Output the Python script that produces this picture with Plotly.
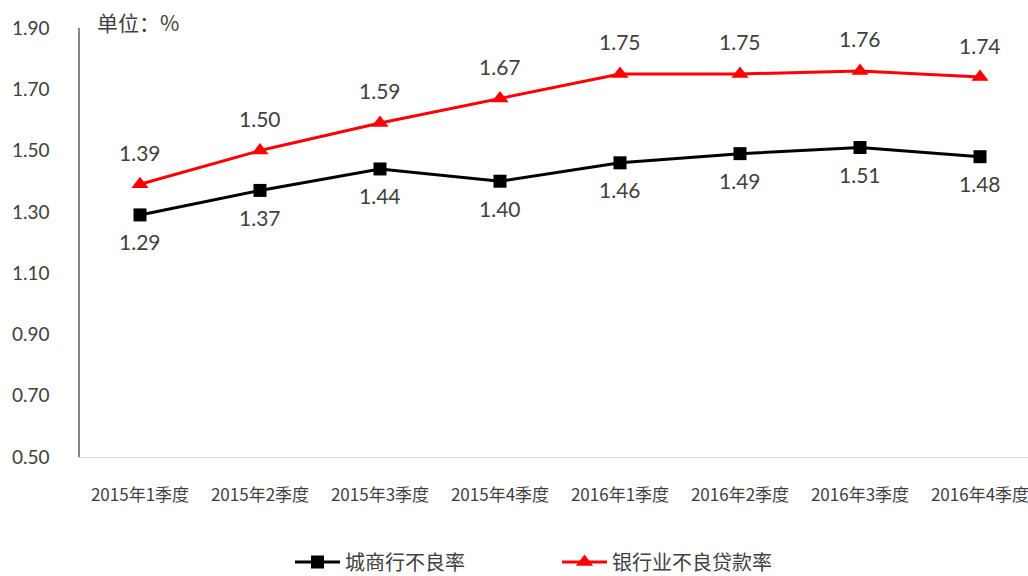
import plotly.graph_objects as go

categories = ["2015年1季度", "2015年2季度", "2015年3季度", "2015年4季度",
              "2016年1季度", "2016年2季度", "2016年3季度", "2016年4季度"]
city_bank = [1.29, 1.37, 1.44, 1.40, 1.46, 1.49, 1.51, 1.48]
banking = [1.39, 1.50, 1.59, 1.67, 1.75, 1.75, 1.76, 1.74]
y_ticks = [0.50, 0.70, 0.90, 1.10, 1.30, 1.50, 1.70, 1.90]

cjk = "Noto Sans CJK SC"
num_font = "Lato, Carlito, Liberation Sans, sans-serif"
grey = "#404040"

fig = go.Figure()
fig.add_trace(go.Scatter(
    x=categories, y=city_bank, name="城商行不良率",
    mode="lines+markers",
    line=dict(color="#000000", width=3),
    marker=dict(symbol="square", size=13, color="#000000"),
    cliponaxis=False,
))
fig.add_trace(go.Scatter(
    x=categories, y=banking, name="银行业不良贷款率",
    mode="lines+markers",
    line=dict(color="#ff0000", width=3),
    marker=dict(symbol="triangle-up", size=15, color="#ff0000"),
    cliponaxis=False,
))

annotations = []
for c, v in zip(categories, city_bank):
    annotations.append(dict(x=c, y=v, xref="x", yref="y", text=f"{v:.2f}",
                            showarrow=False, yshift=-27, yanchor="middle",
                            font=dict(family=num_font, size=21, color=grey)))
for c, v in zip(categories, banking):
    annotations.append(dict(x=c, y=v, xref="x", yref="y", text=f"{v:.2f}",
                            showarrow=False, yshift=32, yanchor="middle",
                            font=dict(family=num_font, size=21, color=grey)))
annotations.append(dict(
    text="单位：%", xref="paper", yref="paper",
    x=0.016, y=1.0 + (28 - 22) / 429, xanchor="left", yanchor="middle",
    showarrow=False, font=dict(family=cjk, size=21, color=grey),
))

fig.update_layout(
    width=1028, height=576,
    margin=dict(l=80, r=0, t=28, b=119, autoexpand=False),
    plot_bgcolor="white", paper_bgcolor="white",
    xaxis=dict(
        type="category", range=[-0.5, 7.4],
        showgrid=False, showline=True, linecolor="#d9d9d9", linewidth=1,
        ticks="", tickfont=dict(family=cjk, size=17, color=grey),
        ticklabelstandoff=23,
    ),
    yaxis=dict(
        range=[0.5, 1.9], tickvals=y_ticks,
        ticktext=[f"{v:.2f}" for v in y_ticks],
        showgrid=False, zeroline=False,
        showline=True, linecolor="#868686", linewidth=1.5,
        ticks="", tickfont=dict(family=num_font, size=19, color=grey),
        ticklabelstandoff=25,
    ),
    legend=dict(
        orientation="h", xref="container", yref="container",
        x=290 / 1028, xanchor="left", y=(576 - 562) / 576, yanchor="middle",
        font=dict(family=cjk, size=20, color=grey),
        itemwidth=45, entrywidth=207,
    ),
    showlegend=True,
    annotations=annotations,
)

fig.write_html("out.html")
